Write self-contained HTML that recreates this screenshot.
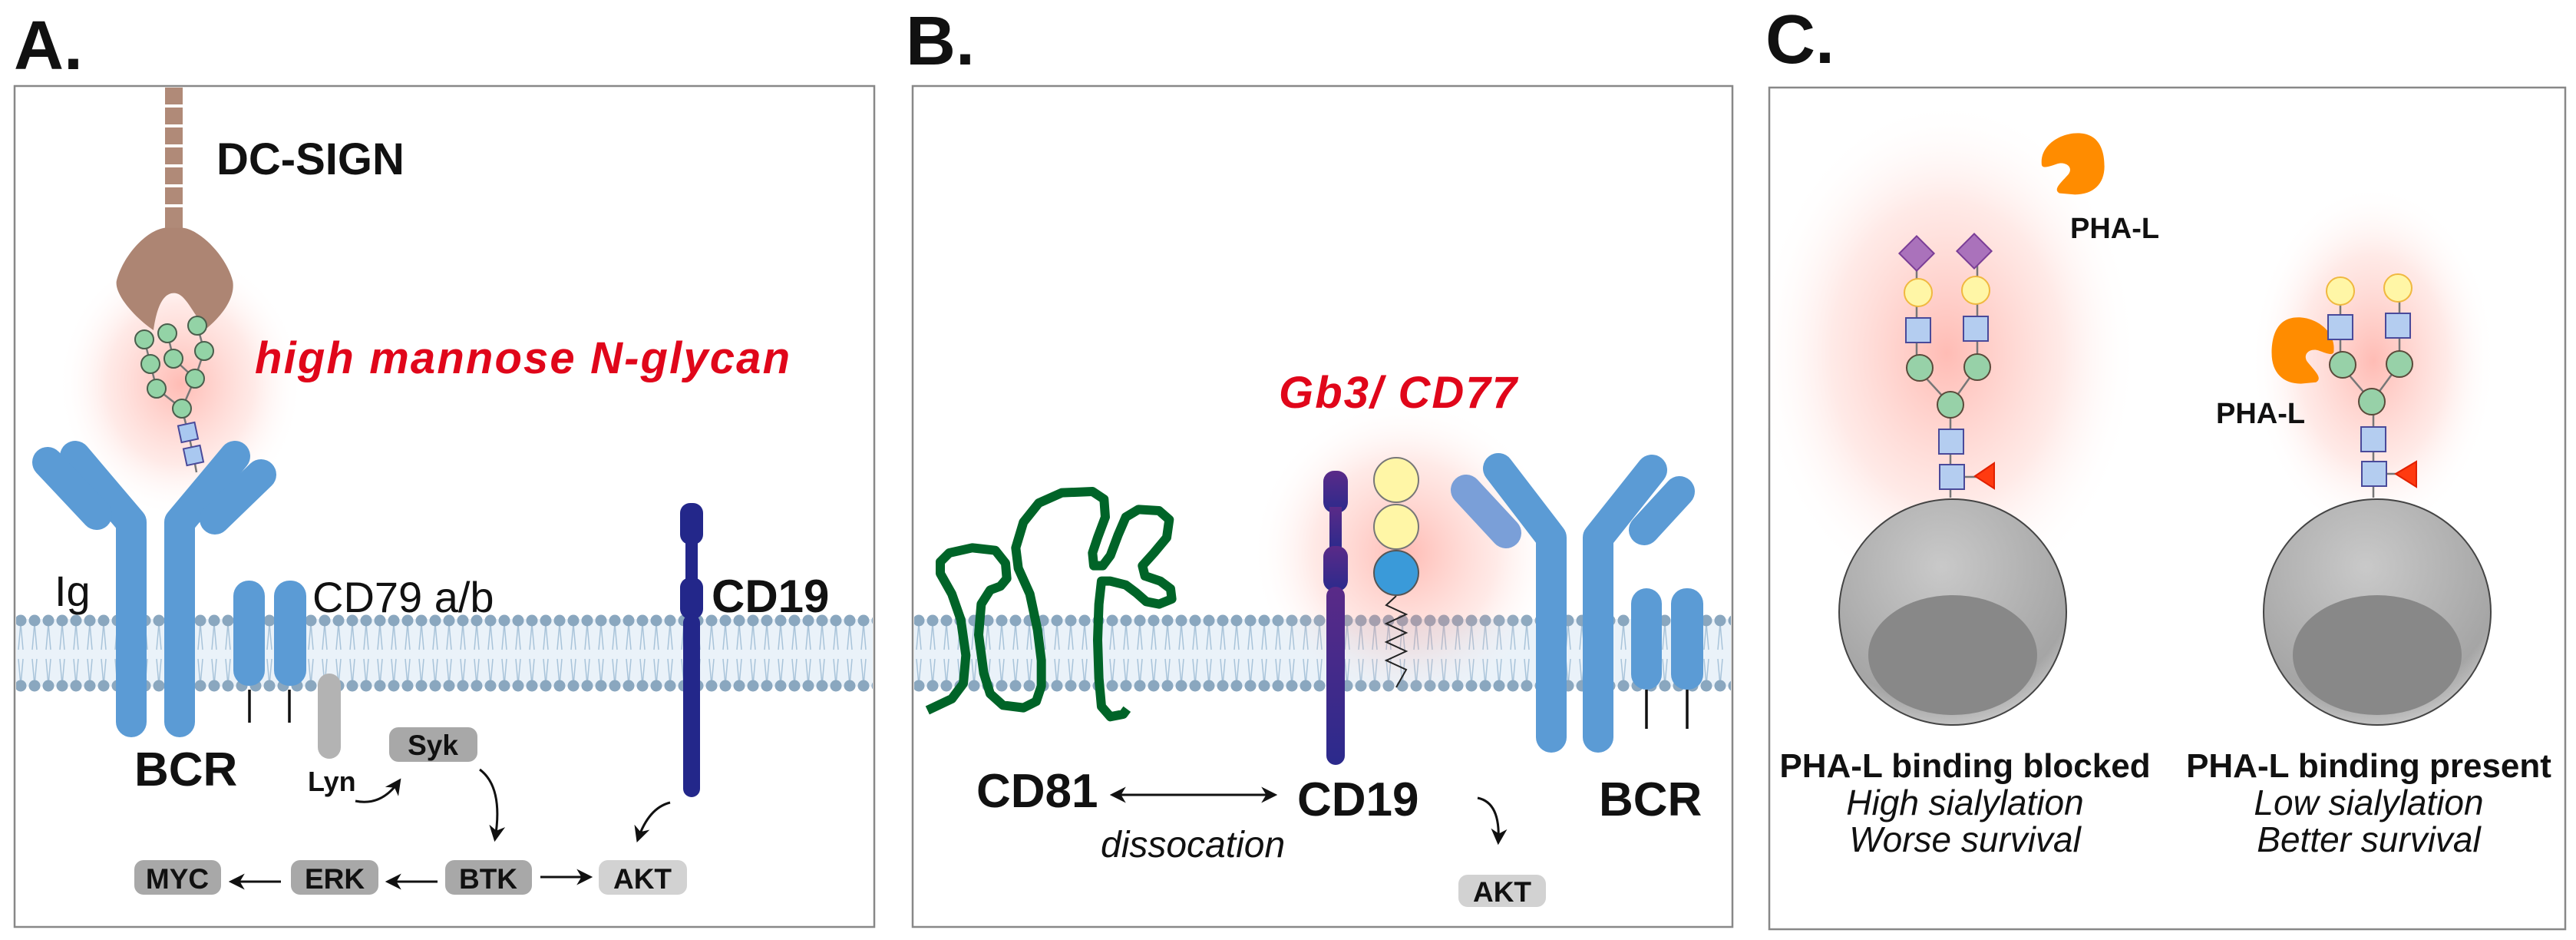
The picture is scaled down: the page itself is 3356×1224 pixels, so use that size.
<!DOCTYPE html>
<html><head><meta charset="utf-8"><style>
html,body{margin:0;padding:0;background:#fff;}
svg{display:block;}
text{font-family:"Liberation Sans",Arial,sans-serif;}
</style></head><body>
<svg width="3356" height="1224" viewBox="0 0 3356 1224" xmlns="http://www.w3.org/2000/svg">
<defs>
<pattern id="mem" x="0" y="798" width="18" height="106" patternUnits="userSpaceOnUse">
<rect x="0" y="8" width="18" height="88" fill="#eaf2f9"/>
<path d="M9,14 L6,48 M9,14 L12,48 M6,60 L9,94 M12,60 L9,94" stroke="#a9c4da" stroke-width="1.5" fill="none"/>
<circle cx="9" cy="10" r="7.5" fill="#8aa7bf"/>
<circle cx="9" cy="95" r="7.5" fill="#8aa7bf"/>
</pattern>
<radialGradient id="glow"><stop offset="0" stop-color="#ff6a5a" stop-opacity="0.45"/><stop offset="0.6" stop-color="#ff8a7a" stop-opacity="0.18"/><stop offset="1" stop-color="#ffffff" stop-opacity="0"/></radialGradient>
<radialGradient id="sph" cx="0.45" cy="0.3" r="0.75"><stop offset="0" stop-color="#c9c9c9"/><stop offset="0.8" stop-color="#a5a5a5"/><stop offset="1" stop-color="#d0d0d0"/></radialGradient>
<linearGradient id="cd19b" x1="0" y1="0" x2="0" y2="1"><stop offset="0" stop-color="#5a2a88"/><stop offset="1" stop-color="#2b2a8c"/></linearGradient>
<marker id="ah" viewBox="0 0 10 10" refX="8" refY="5" markerWidth="7" markerHeight="7" orient="auto-start-reverse"><path d="M0,0 L10,5 L0,10 L3,5 Z" fill="#111"/></marker>
</defs>

<text x="18" y="90" font-size="90" font-weight="bold" fill="#111">A.</text>
<text x="1180" y="84" font-size="90" font-weight="bold" fill="#111">B.</text>
<text x="2300" y="82" font-size="90" font-weight="bold" fill="#111">C.</text>

<rect x="19" y="112" width="1120" height="1095" fill="#fff" stroke="#888" stroke-width="2.5"/>
<rect x="1189" y="112" width="1068" height="1095" fill="#fff" stroke="#888" stroke-width="2.5"/>
<rect x="2305" y="114" width="1037" height="1096" fill="#fff" stroke="#888" stroke-width="2.5"/>

<rect x="21" y="798" width="1116" height="106" fill="url(#mem)"/>
<rect x="1191" y="798" width="1064" height="106" fill="url(#mem)"/>

<!-- Panel A -->
<ellipse cx="235" cy="500" rx="160" ry="175" fill="url(#glow)"/>
<g fill="#b08a78">
<rect x="215" y="114" width="23" height="22"/><rect x="215" y="140" width="23" height="22"/><rect x="215" y="166" width="23" height="22"/><rect x="215" y="192" width="23" height="22"/><rect x="215" y="218" width="23" height="22"/><rect x="215" y="244" width="23" height="22"/><rect x="215" y="270" width="23" height="28"/>
</g>
<path transform="translate(140,280) scale(0.3333)" d="M225,50 C150,60 60,160 35,260 C30,320 120,410 180,450 C190,380 210,305 260,305 C305,305 330,380 385,445 C440,400 500,330 490,260 C470,170 370,60 295,50 Z" fill="#ad8573"/>
<text x="282" y="227" font-size="58" font-weight="bold" fill="#111">DC-SIGN</text>
<text x="332" y="486" font-size="58" font-weight="bold" font-style="italic" fill="#e0061a" textLength="697">high mannose N-glycan</text>

<g stroke="#5b9bd5" stroke-linecap="round" fill="none">
<path d="M171,940 L171,680 L98,594" stroke-width="40" stroke-linejoin="round"/>
<path d="M234,940 L234,680 L306,594" stroke-width="40" stroke-linejoin="round"/>
<path d="M62,602 L126,670" stroke-width="40"/>
<path d="M340,618 L280,676" stroke-width="40"/>
</g>
<g stroke="#777" stroke-width="2.5" fill="none">
<path d="M188,442 L196,474 L204,506 L237,532 M218,434 L226,467 L254,493 M257,424 L266,457 L254,493 L237,532 L245,563 L252,593 L256,615"/>
</g>
<g fill="#93d3a6" stroke="#4a5e4c" stroke-width="2">
<circle cx="188" cy="442" r="12"/><circle cx="218" cy="434" r="12"/><circle cx="257" cy="424" r="12"/>
<circle cx="196" cy="474" r="12"/><circle cx="226" cy="467" r="12"/><circle cx="266" cy="457" r="12"/>
<circle cx="204" cy="506" r="12"/><circle cx="254" cy="493" r="12"/><circle cx="237" cy="532" r="12"/>
</g>
<g fill="#a9c8f0" stroke="#4a4a9a" stroke-width="2">
<rect x="234" y="552" width="22" height="22" transform="rotate(-12 245 563)"/>
<rect x="241" y="582" width="22" height="22" transform="rotate(-12 252 593)"/>
</g>
<text x="71" y="789" font-size="56" fill="#111">Ig</text>
<text x="175" y="1023" font-size="62" font-weight="bold" fill="#111">BCR</text>
<rect x="304" y="756" width="41" height="137" rx="20" fill="#5b9bd5"/>
<rect x="357" y="756" width="42" height="137" rx="20" fill="#5b9bd5"/>
<path d="M325,898 V941 M377,898 V941" stroke="#111" stroke-width="3.5"/>
<text x="407" y="797" font-size="56" fill="#111">CD79 a/b</text>
<rect x="414" y="877" width="30" height="111" rx="15" fill="#b3b3b3"/>
<text x="401" y="1030" font-size="36" font-weight="bold" fill="#111">Lyn</text>
<g font-size="37" font-weight="bold" fill="#111" text-anchor="middle">
<rect x="507" y="947" width="115" height="45" rx="12" fill="#a8a8a8"/><text x="564" y="983">Syk</text>
<rect x="580" y="1120" width="113" height="45" rx="12" fill="#a8a8a8"/><text x="636" y="1157">BTK</text>
<rect x="379" y="1120" width="114" height="45" rx="12" fill="#a8a8a8"/><text x="436" y="1157">ERK</text>
<rect x="175" y="1120" width="113" height="45" rx="12" fill="#a8a8a8"/><text x="231" y="1157">MYC</text>
<rect x="780" y="1120" width="115" height="45" rx="12" fill="#d2d2d2"/><text x="837" y="1157">AKT</text>
</g>
<g stroke="#111" stroke-width="3" fill="none" marker-end="url(#ah)">
<path d="M463,1043 Q497,1050 520,1017"/>
<path d="M625,1002 Q656,1025 645,1092"/>
<path d="M873,1045 Q845,1052 831,1093"/>
<path d="M570,1148 L506,1148"/>
<path d="M366,1148 L302,1148"/>
<path d="M704,1142 L768,1142"/>
</g>
<g fill="#23278a">
<rect x="886" y="655" width="30" height="54" rx="13"/>
<rect x="893" y="700" width="16" height="60"/>
<rect x="886" y="752" width="30" height="54" rx="13"/>
<rect x="890" y="800" width="22" height="238" rx="11"/>
</g>
<text x="927" y="797" font-size="60" font-weight="bold" fill="#111">CD19</text>

<!-- Panel B -->
<circle cx="1830" cy="720" r="200" fill="url(#glow)"/>
<polyline transform="translate(1190,600) scale(0.3333)" points="55,975 150,930 195,870 205,760 185,620 150,520 105,440 105,395 140,360 230,340 320,350 360,400 365,460 340,490 300,505 265,560 255,680 275,830 300,910 350,955 430,965 480,940 500,880 500,780 485,660 455,520 410,420 400,340 430,240 490,165 580,125 700,120 745,150 750,220 720,300 700,360 705,410 740,410 770,370 800,290 830,220 880,190 960,195 1000,230 990,300 940,360 895,410 905,450 965,470 1005,500 1010,540 960,560 910,550 870,515 830,485 770,470 735,470 725,560 720,700 725,850 735,960 770,1000 820,990 835,970" fill="none" stroke="#006428" stroke-width="36" stroke-linejoin="round" stroke-linecap="butt"/>
<g fill="url(#cd19b)">
<rect x="1724" y="613" width="32" height="55" rx="14"/>
<rect x="1732" y="660" width="16" height="56"/>
<rect x="1724" y="711" width="32" height="59" rx="14"/>
<rect x="1728" y="764" width="24" height="232" rx="12"/>
</g>
<polyline points="1819,776 1806,788 1832,800 1806,812 1832,824 1806,836 1832,848 1806,860 1832,872 1819,895" fill="none" stroke="#222" stroke-width="2"/>
<circle cx="1819" cy="625" r="29" fill="#fff6a6" stroke="#777" stroke-width="2"/>
<circle cx="1819" cy="686" r="29" fill="#fff6a6" stroke="#777" stroke-width="2"/>
<circle cx="1819" cy="746" r="29" fill="#3a9ad9" stroke="#555" stroke-width="2"/>
<text x="1666" y="531" font-size="58" font-weight="bold" font-style="italic" fill="#e0061a" textLength="310">Gb3/ CD77</text>
<g stroke="#5b9bd5" stroke-linecap="round" fill="none" stroke-linejoin="round">
<path d="M2021,960 L2021,700 L1952,610" stroke-width="40"/>
<path d="M2082,960 L2082,700 L2152,612" stroke-width="40"/>
<path d="M1910,638 L1962,694" stroke-width="40" stroke="#7a9fd8"/>
<path d="M2188,640 L2142,690" stroke-width="40"/>
</g>
<rect x="2125" y="766" width="40" height="132" rx="20" fill="#5b9bd5"/>
<rect x="2177" y="766" width="42" height="132" rx="20" fill="#5b9bd5"/>
<path d="M2145,898 V949 M2198,898 V949" stroke="#111" stroke-width="3.5"/>
<text x="1272" y="1051" font-size="62" font-weight="bold" fill="#111">CD81</text>
<text x="1690" y="1062" font-size="62" font-weight="bold" fill="#111">CD19</text>
<text x="2083" y="1062" font-size="62" font-weight="bold" fill="#111">BCR</text>
<text x="1434" y="1116" font-size="48" font-style="italic" fill="#111">dissocation</text>
<path d="M1450,1035 L1660,1035" stroke="#111" stroke-width="3" marker-start="url(#ah)" marker-end="url(#ah)"/>
<path d="M1925,1039 Q1955,1045 1952,1096" stroke="#111" stroke-width="3" fill="none" marker-end="url(#ah)"/>
<rect x="1900" y="1139" width="114" height="42" rx="12" fill="#d2d2d2"/>
<text x="1957" y="1174" font-size="37" font-weight="bold" fill="#111" text-anchor="middle">AKT</text>

<!-- Panel C -->
<ellipse cx="2536" cy="460" rx="250" ry="330" fill="url(#glow)"/>
<ellipse cx="3092" cy="470" rx="160" ry="230" fill="url(#glow)"/>
<path transform="translate(2420,150) scale(0.3333)" d="M720,195 C710,120 790,70 860,70 C940,70 965,130 965,200 C965,270 920,310 850,310 L790,305 C760,290 800,260 825,230 C845,200 810,180 780,190 C750,200 725,210 720,195 Z" fill="#ff8c00"/>
<text x="2697" y="310" font-size="38" font-weight="bold" fill="#111">PHA-L</text>
<path transform="translate(3278,388) scale(-0.33,0.36)" d="M720,195 C710,120 790,70 860,70 C940,70 965,130 965,200 C965,270 920,310 850,310 L790,305 C760,290 800,260 825,230 C845,200 810,180 780,190 C750,200 725,210 720,195 Z" fill="#ff8c00"/>
<text x="2887" y="551" font-size="38" font-weight="bold" fill="#111">PHA-L</text>

<ellipse cx="2544" cy="797" rx="148" ry="147" fill="url(#sph)" stroke="#444" stroke-width="2"/>
<ellipse cx="2544" cy="853" rx="110" ry="78" fill="#888"/>
<ellipse cx="3097" cy="797" rx="148" ry="147" fill="url(#sph)" stroke="#444" stroke-width="2"/>
<ellipse cx="3097" cy="853" rx="110" ry="78" fill="#888"/>

<g stroke="#777" stroke-width="2.5" fill="none">
<path d="M2497,330 V479 L2541,527 L2576,478 V327 M2541,527 V648 M2543,621 H2575"/>
</g>
<g stroke-width="2">
<rect x="2481" y="314" width="32" height="32" transform="rotate(45 2497 330)" fill="#aa72bb" stroke="#7a3d96"/>
<rect x="2556" y="311" width="32" height="32" transform="rotate(45 2572 327)" fill="#aa72bb" stroke="#7a3d96"/>
<circle cx="2499" cy="381" r="18" fill="#fff6a6" stroke="#f0b840"/>
<circle cx="2574" cy="378" r="18" fill="#fff6a6" stroke="#f0b840"/>
<rect x="2483" y="414" width="32" height="32" fill="#b4cdf0" stroke="#4a4a9a"/>
<rect x="2558" y="412" width="32" height="32" fill="#b4cdf0" stroke="#4a4a9a"/>
<circle cx="2501" cy="479" r="17" fill="#97d1a8" stroke="#5a4a3a"/>
<circle cx="2576" cy="478" r="17" fill="#97d1a8" stroke="#5a4a3a"/>
<circle cx="2541" cy="527" r="17" fill="#97d1a8" stroke="#5a4a3a"/>
<rect x="2526" y="559" width="32" height="32" fill="#b4cdf0" stroke="#4a4a9a"/>
<rect x="2527" y="605" width="32" height="32" fill="#b4cdf0" stroke="#4a4a9a"/>
<path d="M2573,620 L2598,603 L2598,636 Z" fill="#ff3a10" stroke="#e02000"/>
</g>
<g stroke="#777" stroke-width="2.5" fill="none">
<path d="M3049,379 V475 L3090,523 L3126,474 V375 M3092,523 V648 M3094,617 H3122"/>
</g>
<g stroke-width="2">
<circle cx="3049" cy="379" r="18" fill="#fff6a6" stroke="#f0b840"/>
<circle cx="3124" cy="375" r="18" fill="#fff6a6" stroke="#f0b840"/>
<rect x="3033" y="410" width="32" height="32" fill="#b4cdf0" stroke="#4a4a9a"/>
<rect x="3108" y="408" width="32" height="32" fill="#b4cdf0" stroke="#4a4a9a"/>
<circle cx="3052" cy="475" r="17" fill="#97d1a8" stroke="#5a4a3a"/>
<circle cx="3126" cy="474" r="17" fill="#97d1a8" stroke="#5a4a3a"/>
<circle cx="3090" cy="523" r="17" fill="#97d1a8" stroke="#5a4a3a"/>
<rect x="3076" y="556" width="32" height="32" fill="#b4cdf0" stroke="#4a4a9a"/>
<rect x="3077" y="601" width="32" height="32" fill="#b4cdf0" stroke="#4a4a9a"/>
<path d="M3121,617 L3148,601 L3148,634 Z" fill="#ff3a10" stroke="#e02000"/>
</g>

<g font-size="46" fill="#111" text-anchor="middle">
<text x="2560" y="1012" font-weight="bold" font-size="44">PHA-L binding blocked</text>
<text x="2560" y="1061" font-style="italic">High sialylation</text>
<text x="2560" y="1109" font-style="italic">Worse survival</text>
<text x="3086" y="1012" font-weight="bold" font-size="44">PHA-L binding present</text>
<text x="3086" y="1061" font-style="italic">Low sialylation</text>
<text x="3086" y="1109" font-style="italic">Better survival</text>
</g>
</svg>
</body></html>
